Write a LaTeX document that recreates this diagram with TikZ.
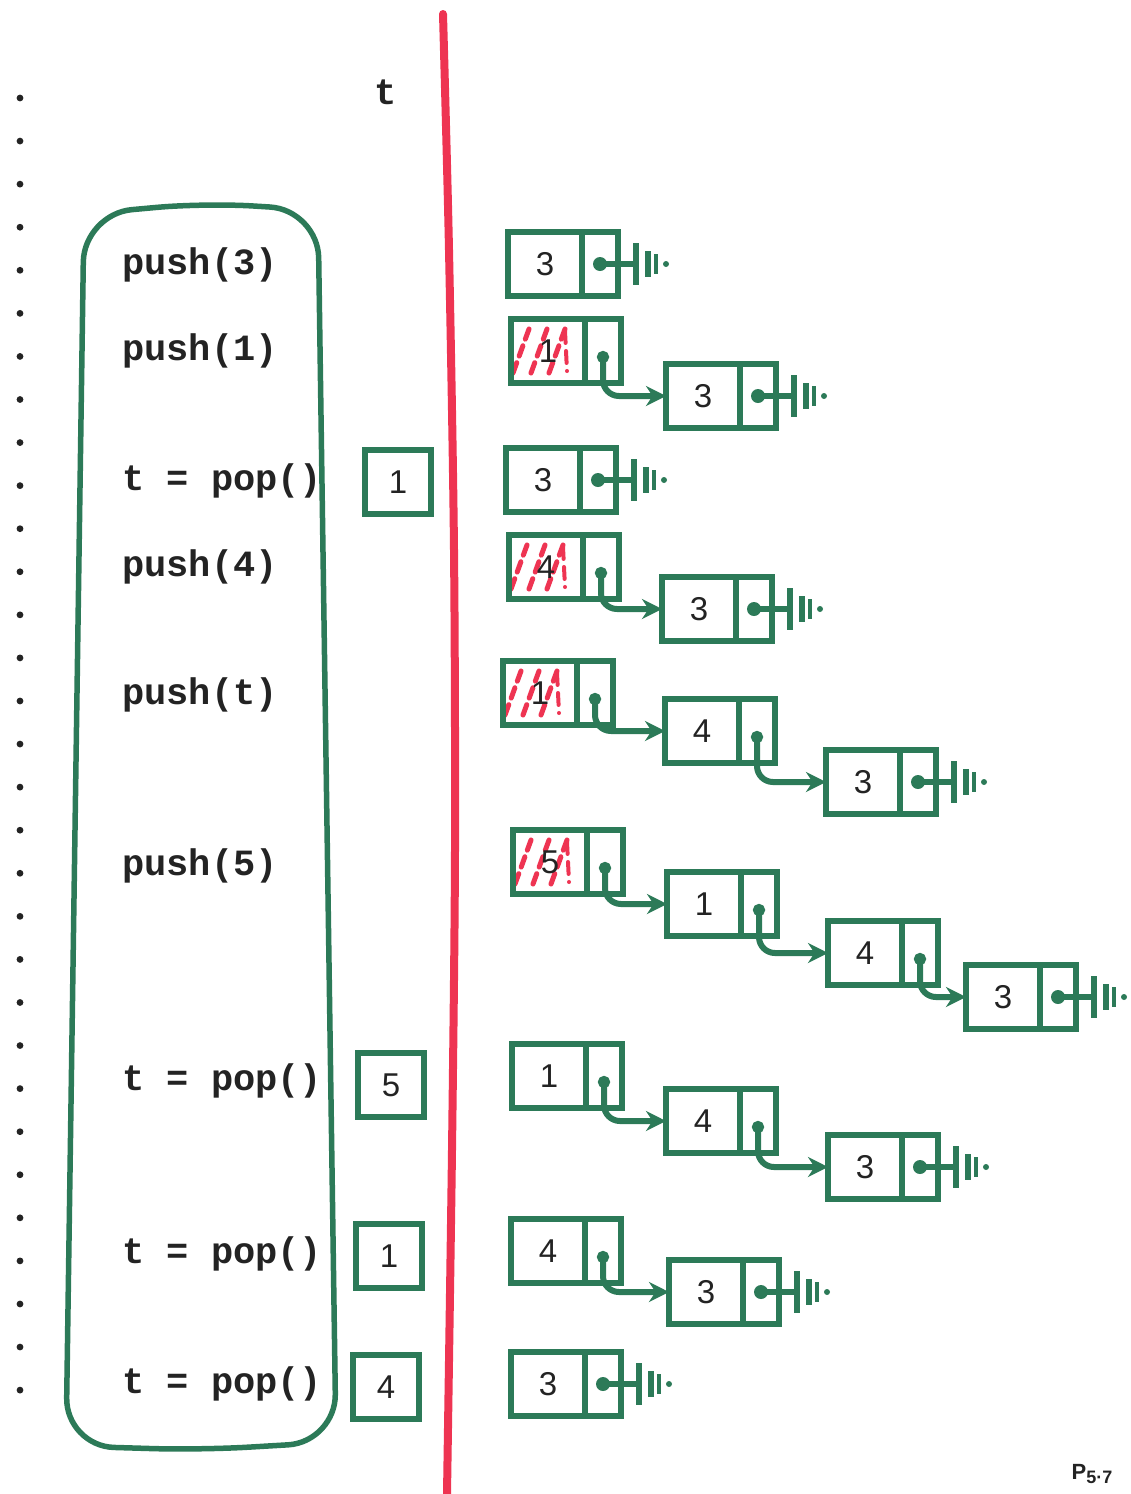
\documentclass[tikz,border=0pt]{standalone}
\usepackage{fontspec}
\setmainfont{Liberation Sans}
\setmonofont{Liberation Mono}
\usepackage{xcolor}
\usetikzlibrary{arrows.meta,positioning}

\definecolor{ink}{RGB}{44,122,88}
\definecolor{redink}{RGB}{238,52,82}
\definecolor{lead}{RGB}{35,35,35}

\begin{document}
\begin{tikzpicture}[
  x=1pt, y=-1pt,
  op/.style={anchor=west, inner sep=0pt, text=lead, font=\fontsize{37}{44}\selectfont\ttfamily\bfseries},
  val/.style={draw=ink, line width=5.5pt, outer sep=0pt, minimum width=74pt, minimum height=64pt, text=lead, font=\fontsize{33}{38}\selectfont},
  ptr/.style={draw=ink, line width=5.5pt, outer sep=0pt, minimum width=36pt, minimum height=64pt},
  tbox/.style={val, minimum width=66pt},
  fresh/.style={path picture={
    \foreach \k in {2,20,38}
      \draw[redink, line width=5pt, line cap=round, dash pattern=on 11pt off 7pt]
        ([xshift=\k pt, yshift=10pt]path picture bounding box.south west) --
        ([xshift={\k pt+16pt}, yshift=-10pt]path picture bounding box.north west);
    \draw[redink, line width=4pt, line cap=round, dash pattern=on 12pt off 8pt]
      ([xshift=54pt, yshift=-12pt]path picture bounding box.north west) --
      ([xshift=56pt, yshift=12pt]path picture bounding box.south west);
  }},
  link/.style={{Circle[length=12pt]}-{Stealth[length=20pt, width=20pt]}, ink, line width=6pt, rounded corners=16pt},
  nil/.style={ink, line width=5.5pt},
]
  \useasboundingbox (0,0) rectangle (1131,1494);

  % margin dots
  \foreach \i in {0,...,30}
    \fill[lead] (20, {98+43.07*\i}) circle (3.4pt);

  % divider
  \draw[redink, line width=8pt, line cap=round]
    plot[smooth] coordinates {(443,14) (449,250) (454,550) (455,850) (452,1150) (447,1494)};

  % program
  \draw[ink, line width=5.5pt, rounded corners=48pt]
    (84,214) -- (205,203) -- (318,210) -- (336,1442) -- (200,1450) -- (66,1446) -- cycle;
  \node[op] (op1) at (122,265) {push(3)};
  \node[op] (op2) at (122,351) {push(1)};
  \node[op] (op3) at (122,481) {t = pop()};
  \node[op] (op4) at (122,567) {push(4)};
  \node[op] (op5) at (122,695) {push(t)};
  \node[op] (op6) at (122,866) {push(5)};
  \node[op] (op7) at (122,1081) {t = pop()};
  \node[op] (op8) at (122,1254) {t = pop()};
  \node[op] (op9) at (122,1384) {t = pop()};

  % variable t
  \node[op, anchor=center] (thead) at (386,92) {t};
  \node[tbox] (t1) at (398,482) {1};
  \node[tbox] (t2) at (391,1085) {5};
  \node[tbox] (t3) at (389,1256) {1};
  \node[tbox] (t4) at (386,1387) {4};

  % stack after each step
  \node[val] (s1a) at (545,264) {3};
  \node[ptr, right=0pt of s1a] (s1ap) {};

  \node[val, fresh] (s2a) at (548,351) {1};
  \node[ptr, right=0pt of s2a] (s2ap) {};
  \node[val] (s2b) at (703,396) {3};
  \node[ptr, right=0pt of s2b] (s2bp) {};

  \node[val] (s3a) at (543,480) {3};
  \node[ptr, right=0pt of s3a] (s3ap) {};

  \node[val, fresh] (s4a) at (546,567) {4};
  \node[ptr, right=0pt of s4a] (s4ap) {};
  \node[val] (s4b) at (699,609) {3};
  \node[ptr, right=0pt of s4b] (s4bp) {};

  \node[val, fresh] (s5a) at (540,693) {1};
  \node[ptr, right=0pt of s5a] (s5ap) {};
  \node[val] (s5b) at (702,731) {4};
  \node[ptr, right=0pt of s5b] (s5bp) {};
  \node[val] (s5c) at (863,782) {3};
  \node[ptr, right=0pt of s5c] (s5cp) {};

  \node[val, fresh] (s6a) at (550,862) {5};
  \node[ptr, right=0pt of s6a] (s6ap) {};
  \node[val] (s6b) at (704,904) {1};
  \node[ptr, right=0pt of s6b] (s6bp) {};
  \node[val] (s6c) at (865,953) {4};
  \node[ptr, right=0pt of s6c] (s6cp) {};
  \node[val] (s6d) at (1003,997) {3};
  \node[ptr, right=0pt of s6d] (s6dp) {};

  \node[val] (s7a) at (549,1076) {1};
  \node[ptr, right=0pt of s7a] (s7ap) {};
  \node[val] (s7b) at (703,1121) {4};
  \node[ptr, right=0pt of s7b] (s7bp) {};
  \node[val] (s7c) at (865,1167) {3};
  \node[ptr, right=0pt of s7c] (s7cp) {};

  \node[val] (s8a) at (548,1251) {4};
  \node[ptr, right=0pt of s8a] (s8ap) {};
  \node[val] (s8b) at (706,1292) {3};
  \node[ptr, right=0pt of s8b] (s8bp) {};

  \node[val] (s9a) at (548,1384) {3};
  \node[ptr, right=0pt of s9a] (s9ap) {};

  % next pointers
  \foreach \u/\v in {s2ap/s2b, s4ap/s4b, s5ap/s5b, s5bp/s5c, s6ap/s6b, s6bp/s6c,
                     s6cp/s6d, s7ap/s7b, s7bp/s7c, s8ap/s8b}
    \draw[link] (\u.center) |- (\v.west);

  % null ends
  \foreach \p in {s1ap, s2bp, s3ap, s4bp, s5cp, s6dp, s7cp, s8bp, s9ap}{
    \fill[ink] (\p.center) circle (7pt);
    \draw[nil] (\p.center) -- ([xshift=18pt]\p.east);
    \draw[nil, line width=6pt] ([xshift=18pt, yshift=21pt]\p.east) -- ([xshift=18pt, yshift=-21pt]\p.east);
    \draw[nil] ([xshift=30pt, yshift=13pt]\p.east) -- ([xshift=30pt, yshift=-13pt]\p.east);
    \draw[nil, line width=4.5pt] ([xshift=38pt, yshift=10pt]\p.east) -- ([xshift=38pt, yshift=-10pt]\p.east);
    \fill[ink] ([xshift=48pt]\p.east) circle (3pt);
  }

  \node[inner sep=0pt, text=lead, font=\fontsize{22}{26}\selectfont\bfseries] (page) at (1092,1474)
    {P\raisebox{-4pt}{\fontsize{18}{20}\selectfont 5·7}};
\end{tikzpicture}
\end{document}
